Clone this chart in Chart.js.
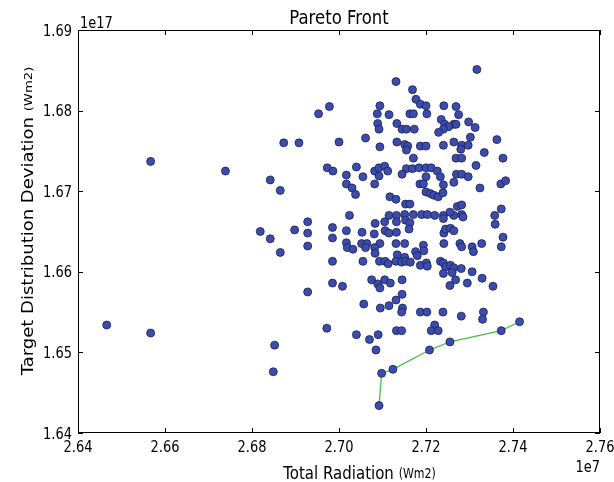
<!DOCTYPE html>
<html><head><meta charset="utf-8">
<script src="https://cdn.jsdelivr.net/npm/chart.js@4/dist/chart.umd.min.js"></script>
<style>html,body{margin:0;padding:0;background:#fff}canvas{display:block}</style>
</head><body>
<canvas id="c" width="614" height="482"></canvas>
<script>
// Total Radiation (x 1e7) of every evaluated solution
const radiation = [
 2.6466,2.6567,2.6567,2.6739,2.6819,2.6842,2.6842,2.6852,2.6849,2.6865,2.6865,2.6873,2.6898,2.6908,2.6928,2.6928,2.6928,2.6928,
 2.7131,2.6978,2.6953,2.7094,2.7088,2.7115,2.7089,2.7092,2.7133,2.7000,2.7061,2.7094,2.7133,2.6973,2.6986,2.7040,2.7017,2.7055,2.7082,2.7092,2.7105,2.7112,2.7092,2.7017,2.7030,2.7082,
 2.7317,2.7169,2.7177,2.7187,2.7200,2.7241,2.7269,2.7163,2.7171,2.7202,2.7275,2.7235,2.7243,2.7264,2.7269,2.7298,2.7313,2.7252,2.7240,2.7229,2.7145,2.7155,2.7173,2.7302,2.7363,2.7264,2.7282,2.7297,2.7151,2.7158,2.7155,2.7187,2.7200,2.7240,2.7280,2.7334,2.7171,2.7269,2.7282,2.7377,2.7315,2.7155,2.7169,2.7184,2.7200,2.7212,2.7226,2.7145,2.7200,2.7233,2.7270,2.7282,2.7297,2.7186,2.7194,2.7240,2.7264,2.7324,2.7372,2.7383,
 2.7038,2.7117,2.7131,2.7024,2.6985,2.6985,2.7017,2.7053,2.7083,2.7081,2.7105,2.7115,2.7132,2.7132,2.7106,2.7115,2.7132,2.7017,2.7019,2.7032,2.7052,2.7064,2.7061,2.7094,2.7082,2.7083,2.7131,2.7134,2.6985,2.7055,2.7093,2.7106,2.7113,2.7131,2.6985,2.7008,2.7075,2.7089,2.7094,2.7105,2.7118,2.7057,2.7095,2.7115,2.7131,
 2.7153,2.7163,2.7151,2.7153,2.7163,2.7161,2.7151,2.7151,2.7144,2.7154,2.7164,2.7145,2.7145,2.7200,2.7210,2.7218,2.7228,2.7239,2.7272,2.7282,2.7373,2.7358,2.7171,2.7190,2.7203,2.7220,2.7240,2.7264,2.7282,2.7285,2.7255,2.7240,2.7359,2.7241,2.7245,2.7256,2.7264,2.7377,2.7194,2.7195,2.7241,2.7278,2.7282,2.7306,2.7309,2.7328,2.7373,2.7176,2.7180,2.7187,2.7201,2.7203,2.7233,2.7240,2.7245,2.7256,2.7264,2.7281,2.7240,2.7260,2.7306,2.7268,2.7255,2.7295,2.7329,2.7354,
 2.7146,2.7144,2.6972,2.7040,2.7070,2.7090,2.7085,2.7132,2.7144,2.7187,2.7202,2.7239,2.7281,2.7332,2.7330,2.7220,2.7212,2.7228,
 2.7092,2.7098,2.7124,2.7208,2.7255,2.7373,2.7415
];
// Target Distribution Deviation (x 1e17) of every evaluated solution
const deviation = [
 1.6534,1.6737,1.6524,1.6725,1.6650,1.6714,1.6641,1.6509,1.6476,1.6701,1.6624,1.6760,1.6652,1.6760,1.6662,1.6648,1.6632,1.6575,
 1.6836,1.6805,1.6796,1.6806,1.6796,1.6795,1.6784,1.6777,1.6784,1.6761,1.6766,1.6755,1.6761,1.6729,1.6725,1.6730,1.6720,1.6718,1.6725,1.6729,1.6731,1.6725,1.6719,1.6709,1.6704,1.6709,
 1.6851,1.6826,1.6814,1.6808,1.6806,1.6806,1.6805,1.6796,1.6796,1.6796,1.6795,1.6789,1.6783,1.6783,1.6783,1.6786,1.6779,1.6780,1.6777,1.6773,1.6777,1.6777,1.6777,1.6767,1.6764,1.6761,1.6757,1.6757,1.6758,1.6756,1.6751,1.6756,1.6756,1.6757,1.6752,1.6748,1.6741,1.6741,1.6741,1.6741,1.6732,1.6728,1.6728,1.6729,1.6729,1.6729,1.6725,1.6721,1.6718,1.6718,1.6721,1.6721,1.6718,1.6709,1.6709,1.6708,1.6711,1.6704,1.6709,1.6713,
 1.6696,1.6693,1.6690,1.6670,1.6655,1.6642,1.6651,1.6649,1.6660,1.6647,1.6662,1.6670,1.6670,1.6662,1.6651,1.6648,1.6649,1.6636,1.6630,1.6628,1.6635,1.6635,1.6630,1.6635,1.6630,1.6623,1.6635,1.6621,1.6613,1.6613,1.6613,1.6613,1.6610,1.6613,1.6586,1.6582,1.6590,1.6585,1.6580,1.6590,1.6586,1.6560,1.6555,1.6558,1.6565,
 1.6684,1.6684,1.6671,1.6664,1.6661,1.6653,1.6635,1.6618,1.6612,1.6613,1.6612,1.6590,1.6572,1.6699,1.6697,1.6695,1.6693,1.6698,1.6681,1.6683,1.6678,1.6670,1.6671,1.6671,1.6671,1.6670,1.6670,1.6670,1.6671,1.6668,1.6674,1.6666,1.6659,1.6648,1.6653,1.6654,1.6651,1.6643,1.6633,1.6626,1.6635,1.6635,1.6631,1.6631,1.6625,1.6635,1.6631,1.6625,1.6620,1.6608,1.6611,1.6607,1.6613,1.6611,1.6606,1.6608,1.6605,1.6604,1.6598,1.6599,1.6600,1.6590,1.6583,1.6586,1.6592,1.6582,
 1.6555,1.6550,1.6530,1.6522,1.6516,1.6522,1.6503,1.6527,1.6527,1.6550,1.6550,1.6550,1.6545,1.6550,1.6541,1.6534,1.6527,1.6527,
 1.6434,1.6474,1.6479,1.6503,1.6513,1.6527,1.6538
];
// Pareto front (non-dominated solutions), joined by the green line
const paretoRadiation = [2.7092,2.7098,2.7124,2.7208,2.7255,2.7373,2.7415];
const paretoDeviation = [1.6434,1.6474,1.6479,1.6503,1.6513,1.6527,1.6538];

const xTicks = [2.64,2.66,2.68,2.70,2.72,2.74,2.76];
const yTicks = [1.64,1.65,1.66,1.67,1.68,1.69];
const xTickLabels = ['2.64','2.66','2.68','2.70','2.72','2.74','2.76'];
const yTickLabels = ['1.64','1.65','1.66','1.67','1.68','1.69'];
const chartTitle = 'Pareto Front';
const xTitle = ['Total Radiation', '(Wm2)'];
const yTitle = ['Target Distribution Deviation', '(Wm2)'];
const xOffsetText = '1e7';
const yOffsetText = '1e17';

const FONT = "'DejaVu Sans', 'Liberation Sans', sans-serif";
const STRETCH = 1.2; // the reference picture is stretched vertically

function txt(ctx, s, x, y, size, align, baseline) {
  ctx.save();
  ctx.translate(x, y);
  ctx.scale(1, STRETCH);
  ctx.font = size + 'px ' + FONT;
  ctx.textAlign = align;
  ctx.textBaseline = baseline || 'alphabetic';
  ctx.fillText(s, 0, 0);
  ctx.restore();
}

const mplPlugin = {
  id: 'mplDecor',
  afterDraw(chart) {
    const {ctx, chartArea: a, scales: {x, y}} = chart;
    ctx.save();
    // frame
    ctx.strokeStyle = '#000';
    ctx.lineWidth = 1;
    ctx.strokeRect(Math.round(a.left) + 0.5, Math.round(a.top) + 0.5,
                   Math.round(a.right) - Math.round(a.left) - 1, Math.round(a.bottom) - Math.round(a.top) - 1);
    // inward ticks on all four sides
    ctx.beginPath();
    xTicks.forEach(v => {
      const p = Math.round(x.getPixelForValue(v)) + 0.5;
      ctx.moveTo(p, a.bottom); ctx.lineTo(p, a.bottom - 5);
      ctx.moveTo(p, a.top); ctx.lineTo(p, a.top + 5);
    });
    yTicks.forEach(v => {
      const p = Math.round(y.getPixelForValue(v)) + 0.5;
      ctx.moveTo(a.left, p); ctx.lineTo(a.left + 5, p);
      ctx.moveTo(a.right, p); ctx.lineTo(a.right - 5, p);
    });
    ctx.stroke();

    ctx.fillStyle = '#000';
    // tick labels, placed by the library's scales
    xTicks.forEach((v, i) => txt(ctx, xTickLabels[i], x.getPixelForValue(v), a.bottom + 19, 13, 'center'));
    yTicks.forEach((v, i) => txt(ctx, yTickLabels[i], a.left - 6, y.getPixelForValue(v) + 5.5, 13, 'right'));

    // title and offset texts
    txt(ctx, chartTitle, (a.left + a.right) / 2, a.top - 6, 16.5, 'center');
    txt(ctx, yOffsetText, a.left + 2, a.top - 2, 13, 'left');
    txt(ctx, xOffsetText, a.right, 472, 13, 'right');

    // composite axis titles
    const big = 15, small = 11;
    ctx.font = big + 'px ' + FONT; const w1 = ctx.measureText(xTitle[0] + ' ').width;
    ctx.font = small + 'px ' + FONT; const w2 = ctx.measureText(xTitle[1]).width;
    const sx = 359.5 - (w1 + w2) / 2;
    txt(ctx, xTitle[0] + ' ', sx, 479, big, 'left');
    txt(ctx, xTitle[1], sx + w1, 478, small, 'left');

    ctx.font = big + 'px ' + FONT; const h1 = ctx.measureText(yTitle[0] + ' ').width;
    ctx.font = small + 'px ' + FONT; const h2 = ctx.measureText(yTitle[1]).width;
    ctx.save();
    ctx.translate(33, 221);
    ctx.rotate(-Math.PI / 2);
    ctx.scale(STRETCH, 1);
    const sy = -(h1 + h2) / 2;
    ctx.textAlign = 'left';
    ctx.textBaseline = 'alphabetic';
    ctx.font = big + 'px ' + FONT; ctx.fillText(yTitle[0] + ' ', sy, 0);
    ctx.font = small + 'px ' + FONT; ctx.fillText(yTitle[1], sy + h1, -1);
    ctx.restore();
    ctx.restore();
  }
};

const points = radiation.map((v, i) => ({x: v, y: deviation[i]}));
const front = paretoRadiation.map((v, i) => ({x: v, y: paretoDeviation[i]}));

new Chart(document.getElementById('c'), {
  type: 'scatter',
  data: {
    datasets: [
      {
        label: 'Solutions',
        data: points,
        pointRadius: 4,
        pointBackgroundColor: '#3b4cae',
        pointBorderColor: '#1c2150',
        pointBorderWidth: 0.8,
        showLine: false,
        order: 1
      },
      {
        type: 'line',
        label: 'Pareto front',
        data: front,
        borderColor: '#4dbb4d',
        borderWidth: 1.3,
        pointRadius: 0,
        fill: false,
        tension: 0,
        order: 2
      }
    ]
  },
  options: {
    responsive: false,
    animation: false,
    devicePixelRatio: 1,
    layout: {padding: {top: 30, right: 14, left: 0, bottom: 0}},
    plugins: {legend: {display: false}, tooltip: {enabled: false}, title: {display: false}},
    scales: {
      x: {
        type: 'linear', min: 2.64, max: 2.76,
        afterBuildTicks: s => { s.ticks = xTicks.map(v => ({value: v})); },
        afterFit: s => { s.height = 49; s.paddingLeft = 0; s.paddingRight = 0; },
        grid: {display: false, drawTicks: false},
        border: {display: false},
        ticks: {display: false}
      },
      y: {
        type: 'linear', min: 1.64, max: 1.69,
        afterBuildTicks: s => { s.ticks = yTicks.map(v => ({value: v})); },
        afterFit: s => { s.width = 78; s.paddingTop = 0; s.paddingBottom = 0; },
        grid: {display: false, drawTicks: false},
        border: {display: false},
        ticks: {display: false}
      }
    }
  },
  plugins: [mplPlugin]
});
</script>
</body></html>
